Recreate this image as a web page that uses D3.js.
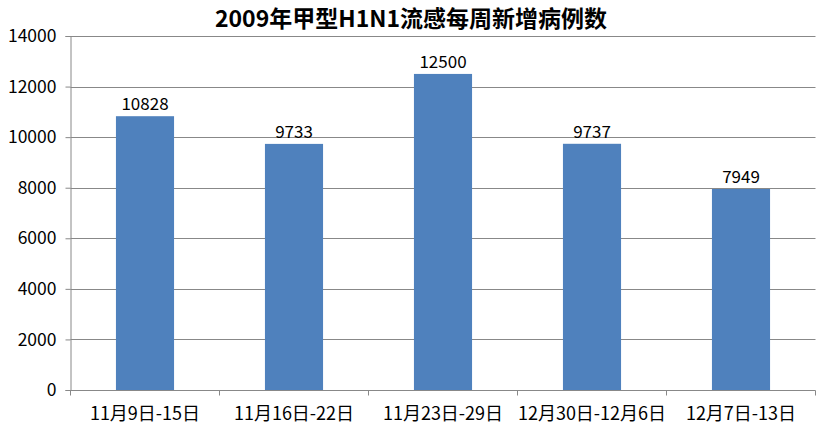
<!DOCTYPE html>
<html><head><meta charset="utf-8">
<script src="https://cdn.jsdelivr.net/npm/d3@7"></script>
<style>body{margin:0;background:#fff;}svg{display:block;}</style>
</head><body>
<svg id="c" width="822" height="429"></svg>
<script>
const categories = ["11月9日-15日","11月16日-22日","11月23日-29日","12月30日-12月6日","12月7日-13日"];
const values = [10828, 9733, 12500, 9737, 7949];
const yTicks = [0,2000,4000,6000,8000,10000,12000,14000];
const title = "2009年甲型H1N1流感每周新增病例数";

const svg = d3.select("#c");
const m = {left:70.5, right:815.5, top:36, bottom:390};
const x = d3.scaleBand().domain(categories).range([m.left, m.right]).paddingInner(0.61).paddingOuter(0.305);
const y = d3.scaleLinear().domain([0,14000]).range([m.bottom, m.top]);
const font = "'Noto Sans CJK SC', 'Liberation Sans', sans-serif";

// gridlines
svg.append("g").selectAll("line").data(yTicks.filter(d=>d>0)).join("line")
  .attr("x1", m.left).attr("x2", m.right)
  .attr("y1", d=>Math.round(y(d))+0.5).attr("y2", d=>Math.round(y(d))+0.5)
  .attr("stroke", "#888").attr("stroke-width", 1);

// y axis
const ya = svg.append("g").attr("transform", `translate(${m.left},0)`)
  .call(d3.axisLeft(y).tickValues(yTicks).tickSize(5).tickPadding(9).tickFormat(d=>d));
ya.select(".domain").attr("stroke","#888");
ya.selectAll(".tick line").attr("stroke","#888");
ya.selectAll("text").attr("font-family", font).attr("font-size", 17.5).attr("fill","#000");

// bars
svg.append("g").selectAll("rect").data(values).join("rect")
  .attr("x", (d,i)=>x(categories[i])).attr("width", x.bandwidth())
  .attr("y", d=>y(d)).attr("height", d=>y(0)-y(d))
  .attr("fill", "#4F81BD");

// value labels
svg.append("g").selectAll("text").data(values).join("text")
  .attr("x", (d,i)=>x(categories[i])+x.bandwidth()/2).attr("y", d=>y(d)-6)
  .attr("text-anchor","middle").attr("font-family", font).attr("font-size", 17).attr("fill","#000")
  .text(d=>d);

// x axis
const step = (m.right - m.left)/categories.length;
const xa = svg.append("g").attr("transform", `translate(0,${m.bottom+0.5})`);
xa.append("line").attr("x1", m.left).attr("x2", m.right).attr("stroke","#888");
xa.selectAll(".tk").data(d3.range(categories.length+1)).join("line").attr("class","tk")
  .attr("x1", i=>m.left+i*step).attr("x2", i=>m.left+i*step).attr("y1",0).attr("y2",5).attr("stroke","#888");
xa.selectAll("text").data(categories).join("text")
  .attr("x", d=>x(d)+x.bandwidth()/2).attr("y", 29)
  .attr("text-anchor","middle").attr("font-family", font).attr("font-size", 18).attr("fill","#000")
  .text(d=>d);

// title
svg.append("text").attr("x", 411).attr("y", 27).attr("text-anchor","middle")
  .attr("font-family", font).attr("font-weight","bold").attr("font-size", 23).attr("fill","#000")
  .text(title);
</script>
</body></html>
